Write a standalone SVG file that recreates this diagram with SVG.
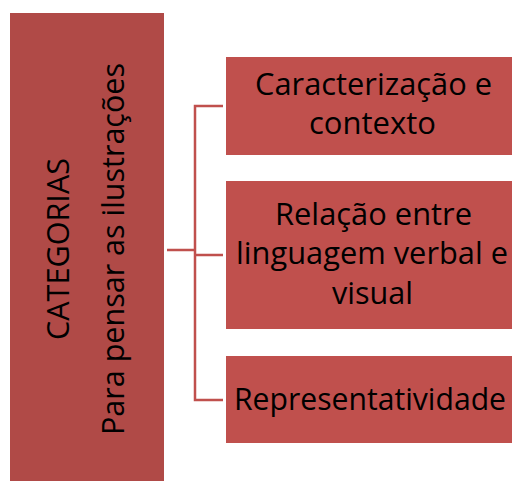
<svg xmlns="http://www.w3.org/2000/svg" width="512" height="481" viewBox="0 0 512 481">
<style>
.t{font-family:"Open Sans","Liberation Sans",sans-serif;font-size:31.5px;fill:#000}
.box{fill:#c0504d}
.conn{fill:none;stroke:#c0504d;stroke-width:2.5}
</style>
<rect width="512" height="481" fill="#fff"/>
<g id="categorias">
<rect x="10" y="13" width="154" height="468" fill="#b04a47"/>
<text class="t" transform="translate(69,249) rotate(-90)" text-anchor="middle" textLength="182" lengthAdjust="spacingAndGlyphs">CATEGORIAS</text>
<text class="t" transform="translate(124,249) rotate(-90)" text-anchor="middle" textLength="372" lengthAdjust="spacingAndGlyphs">Para pensar as ilustrações</text>
</g>
<g id="connectors">
<path class="conn" d="M167,250 H195 M223,106 H195 V400 H223 M195,255 H223"/>
</g>
<g id="caracterizacao">
<rect class="box" x="226" y="57" width="286" height="98"/>
<text class="t" x="373.5" y="95" text-anchor="middle" textLength="237" lengthAdjust="spacingAndGlyphs">Caracterização e</text>
<text class="t" x="372.5" y="134" text-anchor="middle" textLength="127" lengthAdjust="spacingAndGlyphs">contexto</text>
</g>
<g id="relacao">
<rect class="box" x="226" y="181" width="286" height="148"/>
<text class="t" x="373.5" y="225" text-anchor="middle" textLength="197" lengthAdjust="spacingAndGlyphs">Relação entre</text>
<text class="t" x="372" y="264" text-anchor="middle" textLength="272" lengthAdjust="spacingAndGlyphs">linguagem verbal e</text>
<text class="t" x="372.5" y="304" text-anchor="middle" textLength="81" lengthAdjust="spacingAndGlyphs">visual</text>
</g>
<g id="representatividade">
<rect class="box" x="226" y="356" width="286" height="87"/>
<text class="t" x="370" y="410" text-anchor="middle" textLength="272" lengthAdjust="spacingAndGlyphs">Representatividade</text>
</g>
</svg>
